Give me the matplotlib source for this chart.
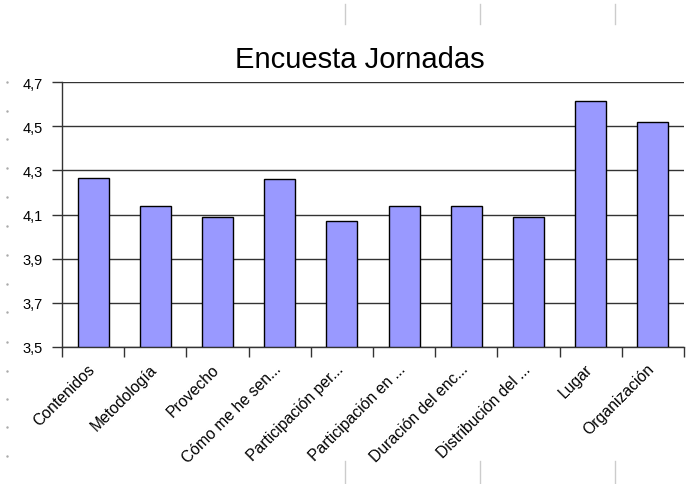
import matplotlib
matplotlib.use("Agg")
import matplotlib.pyplot as plt
from matplotlib.lines import Line2D
from matplotlib.transforms import ScaledTranslation
import numpy as np

categories = ["Contenidos", "Metodología", "Provecho", "Cómo me he sen...",
              "Participación per...", "Participación en ...", "Duración del enc...",
              "Distribución del ...", "Lugar", "Organización"]
values = [4.265, 4.14, 4.09, 4.26, 4.07, 4.14, 4.14, 4.09, 4.615, 4.52]
yticks = [3.5, 3.7, 3.9, 4.1, 4.3, 4.5, 4.7]
ytick_labels = ["3,5", "3,7", "3,9", "4,1", "4,3", "4,5", "4,7"]
title = "Encuesta Jornadas"

plt.rcParams['font.family'] = ['Liberation Sans', 'DejaVu Sans']

fig = plt.figure(figsize=(6.92, 4.85), dpi=100)
ax = fig.add_axes([62/692, 1-348/485, (684-62)/692, (348-83)/485])

x = np.arange(len(categories))
ax.bar(x, [v - 3.5 for v in values], bottom=3.5, width=0.5, color="#9999FF",
       edgecolor="black", linewidth=1.0, zorder=3)

ax.set_xlim(-0.5, len(categories) - 0.5)
ax.set_ylim(3.5, 4.7)
ax.set_yticks(yticks)
ax.set_yticklabels(ytick_labels, fontsize=10.5)
ax.yaxis.grid(True, color="#333333", linewidth=1.0, zorder=0)
ax.tick_params(axis='y', length=7.2, width=1.0, color="#333333", pad=6.5)

ax.set_xticks(x)
ax.set_xticklabels(categories, rotation=45, ha="right", rotation_mode="anchor", fontsize=11.3)
ax.tick_params(axis='x', which='major', length=0, pad=10)
ax.set_xticks(np.arange(-0.5, len(categories)), minor=True)
ax.tick_params(axis='x', which='minor', length=7, width=1.0, color="#333333")
offset = ScaledTranslation(-6/100, 0, fig.dpi_scale_trans)
for lbl in ax.get_xticklabels():
    lbl.set_transform(lbl.get_transform() + offset)

for s in ["top", "right"]:
    ax.spines[s].set_visible(False)
for s in ["left", "bottom"]:
    ax.spines[s].set_color("#333333")
    ax.spines[s].set_linewidth(1.0)

fig.text(360/692, 1-60/485, title, ha="center", va="center", fontsize=21)

# page decorations (spreadsheet artifacts)
for px in [345, 480, 615]:
    fig.add_artist(Line2D([px/692, px/692], [1-5/485, 1-25/485], color="#cccccc", lw=1))
    fig.add_artist(Line2D([px/692, px/692], [1-462/485, 0], color="#cccccc", lw=1))
for py in [83, 112, 140, 169, 198, 227, 256, 285, 313, 343, 372, 400, 428, 457]:
    fig.add_artist(Line2D([7/692], [1-py/485], marker='.', markersize=1.5, color="#aaaaaa", lw=0))

fig.savefig("out.png", dpi=100)
